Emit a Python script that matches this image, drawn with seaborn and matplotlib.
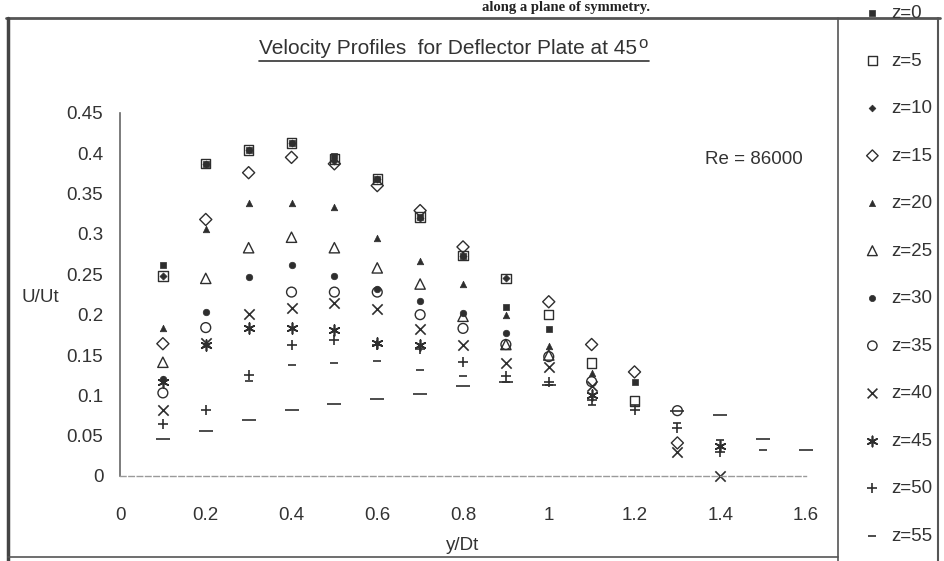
import numpy as np
import pandas as pd
import matplotlib
matplotlib.use("Agg")
import matplotlib.pyplot as plt
import seaborn as sns
from matplotlib.lines import Line2D
from matplotlib.ticker import FuncFormatter

nan = np.nan

# ---------------- data ----------------
y_dt = [0.1, 0.2, 0.3, 0.4, 0.5, 0.6, 0.7, 0.8, 0.9, 1.0, 1.1, 1.2, 1.3, 1.4, 1.5, 1.6]

z_labels = ["z=0", "z=5", "z=10", "z=15", "z=20", "z=25", "z=30", "z=35",
            "z=40", "z=45", "z=50", "z=55", "z=60"]

u_z0 = [0.261, 0.387, 0.404, 0.413, 0.397, 0.368, 0.321, 0.273, 0.210, 0.182, nan, 0.116, nan, nan, nan, nan]
u_z5 = [0.248, 0.387, 0.404, 0.413, 0.393, 0.368, 0.321, 0.273, 0.245, 0.200, 0.140, 0.093, nan, nan, nan, nan]
u_z10 = [0.248, 0.387, 0.404, 0.413, 0.390, 0.368, 0.320, 0.273, 0.245, nan, nan, nan, nan, nan, nan, nan]
u_z15 = [0.164, 0.318, 0.376, 0.395, 0.387, 0.360, 0.329, 0.284, nan, 0.216, 0.163, 0.129, 0.041, nan, nan, nan]
u_z20 = [0.183, 0.306, 0.338, 0.339, 0.333, 0.295, 0.267, 0.238, 0.200, 0.161, 0.128, nan, nan, nan, nan, nan]
u_z25 = [0.141, 0.245, 0.283, 0.296, 0.283, 0.258, 0.238, 0.198, 0.163, 0.150, nan, nan, nan, nan, nan, nan]
u_z30 = [0.120, 0.203, 0.247, 0.261, 0.248, 0.232, 0.217, 0.202, 0.177, nan, nan, nan, nan, nan, nan, nan]
u_z35 = [0.103, 0.184, nan, 0.228, 0.228, 0.228, 0.200, 0.183, 0.163, 0.148, 0.117, nan, 0.081, nan, nan, nan]
u_z40 = [0.082, 0.165, 0.201, 0.208, 0.215, 0.207, 0.182, 0.162, 0.140, 0.135, 0.111, nan, 0.030, 0.0, nan, nan]
u_z45 = [0.117, 0.163, 0.183, 0.183, 0.181, 0.165, 0.163, nan, nan, nan, 0.100, nan, nan, 0.037, nan, nan]
u_z50 = [0.065, 0.082, 0.125, 0.162, 0.169, 0.162, 0.157, 0.141, 0.124, 0.117, 0.094, 0.082, 0.059, 0.030, nan, nan]
u_z55 = [nan, nan, 0.118, 0.137, 0.140, 0.142, 0.132, 0.124, 0.116, 0.113, 0.088, 0.088, 0.066, 0.045, 0.032, nan]
u_z60 = [0.046, 0.056, 0.069, 0.082, 0.089, 0.096, 0.102, 0.112, 0.116, 0.113, nan, nan, 0.081, 0.076, 0.046, 0.032]

x_ticks = [0, 0.2, 0.4, 0.6, 0.8, 1.0, 1.2, 1.4, 1.6]
y_ticks = [0, 0.05, 0.1, 0.15, 0.2, 0.25, 0.3, 0.35, 0.4, 0.45]

# ---------------- style ----------------
sns.set_theme(style="white")
plt.rcParams["font.family"] = ["Liberation Sans", "DejaVu Sans"]

INK = "#2e2e2e"
W, H = 944, 561

fig = plt.figure(figsize=(W / 100, H / 100), dpi=100)
ax = fig.add_axes([120 / W, 1 - 476 / H, 686 / W, 363 / H])

# (values, marker, kind, size)  kind: filled / open / line
styles = [
    (u_z0, "s", "filled", 24),
    (u_z5, "s", "open", 45),
    (u_z10, "D", "filled", 13),
    (u_z15, "D", "open", 38),
    (u_z20, "^", "filled", 22),
    (u_z25, "^", "open", 55),
    (u_z30, "o", "filled", 22),
    (u_z35, "o", "open", 50),
    (u_z40, "x", "line", 55),
    (u_z45, (6, 2, 0), "line", 60),
    (u_z50, "+", "line", 60),
    (u_z55, "_", "line", 30),
    (u_z60, "_", "line", 90),
]

for lab, (vals, mk, kind, size) in zip(z_labels, styles):
    df = pd.DataFrame({"y/Dt": y_dt, "U/Ut": vals}).dropna()
    sns.scatterplot(data=df, x="y/Dt", y="U/Ut", marker=mk, s=size, color=INK,
                    ax=ax, label=lab, legend=False)
    coll = ax.collections[-1]
    coll.set_clip_on(False)
    if kind == "open":
        coll.set_facecolor("none")
        coll.set_edgecolor(INK)
        coll.set_linewidth(1.0)
    elif kind == "line":
        coll.set_edgecolor(INK)
        coll.set_linewidth(1.2)
    else:
        coll.set_edgecolor(INK)
        coll.set_linewidth(0.5)

ax.set_xlim(0, 1.6)
ax.set_ylim(0, 0.45)
ax.set_xticks(x_ticks)
ax.set_yticks(y_ticks)
fmt = FuncFormatter(lambda v, _: f"{v:g}")
ax.xaxis.set_major_formatter(fmt)
ax.yaxis.set_major_formatter(fmt)
ax.set_xlabel("")
ax.set_ylabel("")
ax.set_facecolor("white")
for s in ("top", "right"):
    ax.spines[s].set_visible(False)
ax.spines["left"].set_color("#666666")
ax.spines["left"].set_linewidth(1.2)
ax.spines["bottom"].set_color("#9a9a9a")
ax.spines["bottom"].set_linewidth(1.0)
ax.spines["bottom"].set_linestyle((0, (4, 2)))
ax.tick_params(axis="both", direction="inout", length=8, width=1.0,
               color="#555555", labelsize=13.5, labelcolor="#333333")
ax.tick_params(axis="x", pad=17, length=10)
ax.tick_params(axis="y", pad=8)
ax.grid(False)

# ---------------- texts ----------------
fig.text(40 / W, 1 - 297 / H, "U/Ut", fontsize=13.5, color="#333333", ha="center", va="center")
fig.text(463 / W, 1 - 545 / H, "y/Dt", fontsize=13.5, color="#333333", ha="center", va="center")
fig.text(705 / W, 1 - 160 / H, "Re = 86000", fontsize=13.5, color="#333333", ha="left", va="center")

title = fig.text(448 / W, 1 - 48 / H, "Velocity Profiles  for Deflector Plate at 45",
                 fontsize=15, color="#333333", ha="center", va="center",
                 family=["Liberation Sans Narrow", "Liberation Sans", "DejaVu Sans"])
fig.canvas.draw()
bb = title.get_window_extent()
sup = fig.text((bb.x1 + 1) / W, (bb.y1 + 2) / H, "o", fontsize=12, color="#333333",
               ha="left", va="top",
               family=["Liberation Sans Narrow", "Liberation Sans", "DejaVu Sans"])
fig.canvas.draw()
bs = sup.get_window_extent()
fig.add_artist(Line2D([bb.x0 / W, (bs.x1 + 2) / W], [(bb.y0 - 3) / H, (bb.y0 - 3) / H],
                      transform=fig.transFigure, color="#333333", lw=1.2))

# caption from the surrounding document (above the frame)
fig.text(650 / W, 1 - 8 / H, "along a plane of symmetry.", fontsize=10.5, color="#222222",
         ha="right", va="center", weight="bold",
         family=["Liberation Serif", "DejaVu Serif"])

# ---------------- frame ----------------
def fline(x0, y0, x1, y1, lw=1.5, c="#555555"):
    fig.add_artist(Line2D([x0 / W, x1 / W], [1 - y0 / H, 1 - y1 / H],
                          transform=fig.transFigure, color=c, lw=lw))

fline(6, 18, 940, 18, lw=2.0)
fline(8, 18, 8, 561, lw=2.5, c="#444444")
fline(938, 18, 938, 561, lw=1.5)
fline(838, 18, 838, 561, lw=1.2)
fline(8, 557, 838, 557, lw=1.2)

# ---------------- legend (the reference shows entries up to z=55) ----------------
handles, labels = ax.get_legend_handles_labels()
fig.legend(handles[:12], labels[:12], loc="upper left", bbox_to_anchor=(863 / W, 1 - 5 / H),
           frameon=False, fontsize=13.5, labelspacing=1.62, handletextpad=0.5,
           borderaxespad=0, borderpad=0, markerscale=0.95, handlelength=1.0,
           labelcolor="#333333")

fig.savefig("out.png", dpi=100, facecolor="white")
